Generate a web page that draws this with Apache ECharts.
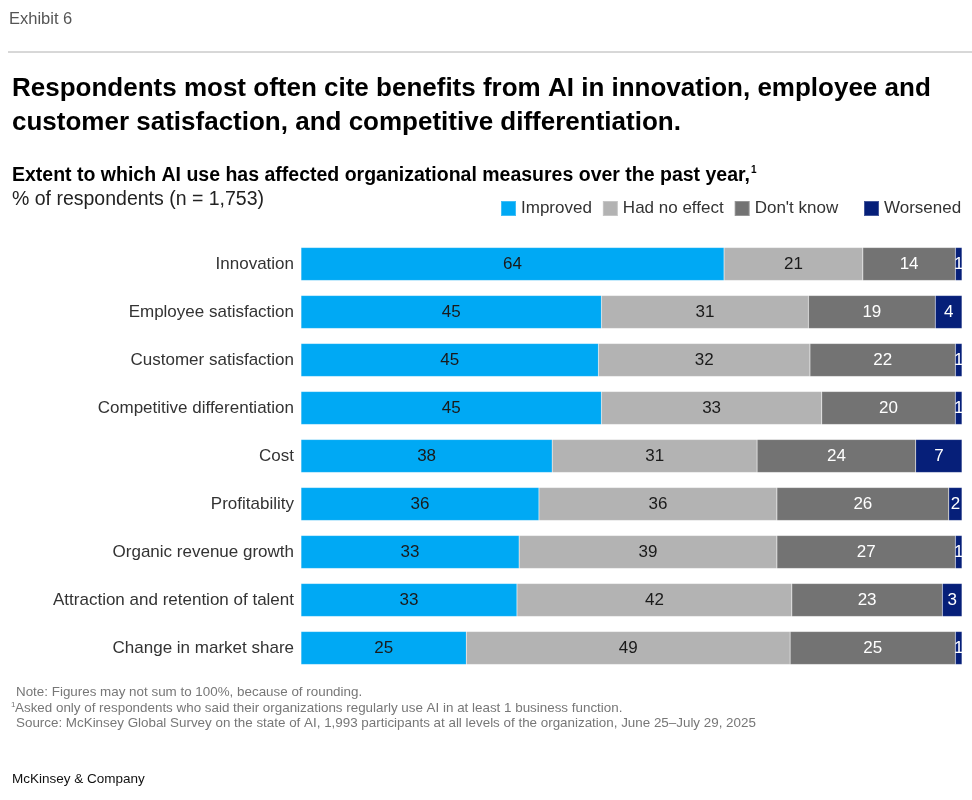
<!DOCTYPE html>
<html>
<head>
<meta charset="utf-8">
<script src="https://cdn.jsdelivr.net/npm/echarts@6/dist/echarts.min.js"></script>
<style>
  html, body { margin: 0; padding: 0; background: #fff; }
  #chart { width: 972px; height: 800px; }
</style>
</head>
<body>
<div id="chart"></div>
<script>
const categories = [
  'Innovation',
  'Employee satisfaction',
  'Customer satisfaction',
  'Competitive differentiation',
  'Cost',
  'Profitability',
  'Organic revenue growth',
  'Attraction and retention of talent',
  'Change in market share',
]
const improved = [64, 45, 45, 45, 38, 36, 33, 33, 25]
const noEffect = [21, 31, 32, 33, 31, 36, 39, 42, 49]
const dontKnow = [14, 19, 22, 20, 24, 26, 27, 23, 25]
const worsened = [1, 4, 1, 1, 7, 2, 1, 3, 1]

const seriesNames = ['Improved', 'Had no effect', "Don't know", 'Worsened']
const colors = ['#00a9f4', '#b3b3b3', '#737373', '#061f79']
const labelColors = ['#1a1a1a', '#1a1a1a', '#ffffff', '#ffffff']

// bars fill the full width; figures may not sum to 100 because of rounding
const totals = categories.map((_, i) => improved[i] + noEffect[i] + dontKnow[i] + worsened[i])

const font = "'Liberation Sans', Arial, sans-serif"

const chart = echarts.init(document.getElementById('chart'))

const makeSeries = (name, values, idx) => ({
  name,
  type: 'bar',
  stack: 'total',
  barWidth: 33,
  itemStyle: { color: colors[idx], borderColor: 'rgba(255,255,255,0.25)', borderWidth: 0.5 },
  label: {
    show: true,
    position: 'inside',
    color: labelColors[idx],
    fontFamily: font,
    fontSize: 17,
    formatter: p => values[p.dataIndex],
  },
  emphasis: { disabled: true },
  data: values.map((v, i) => v / totals[i] * 100),
})

const text = (x, y, str, f, fill) => ({
  type: 'text',
  x, y,
  style: { text: str, font: f, fill, textVerticalAlign: 'middle', verticalAlign: 'middle' },
})

const legendText = { color: '#333', fontFamily: font, fontSize: 17 }

const option = {
  backgroundColor: '#fff',
  animation: false,
  grid: { left: 301, right: 10, top: 240, height: 432 },
  xAxis: { type: 'value', min: 0, max: 100, show: false },
  yAxis: {
    type: 'category',
    inverse: true,
    data: categories,
    axisLine: { show: false },
    axisTick: { show: false },
    axisLabel: { color: '#333', fontFamily: font, fontSize: 17, margin: 7 },
  },
  legend: [
    {
      data: seriesNames.slice(0, 3),
      left: 495, top: 195,
      itemWidth: 15, itemHeight: 15, itemGap: 10,
      icon: 'rect',
      selectedMode: false,
      textStyle: legendText,
    },
    {
      data: seriesNames.slice(3),
      left: 858, top: 195,
      itemWidth: 15, itemHeight: 15,
      icon: 'rect',
      selectedMode: false,
      textStyle: legendText,
    },
  ],
  graphic: [
    text(9, 19, 'Exhibit 6', '16.5px ' + font, '#555'),
    { type: 'line', shape: { x1: 8, y1: 52, x2: 972, y2: 52 }, style: { stroke: '#b0b0b0', lineWidth: 1 } },
    text(12, 89, 'Respondents most often cite benefits from AI in innovation, employee and', 'bold 26px ' + font, '#000'),
    text(12, 123, 'customer satisfaction, and competitive differentiation.', 'bold 26px ' + font, '#000'),
    text(12, 176, 'Extent to which AI use has affected organizational measures over the past year,', 'bold 19.5px ' + font, '#000'),
    text(751, 170, '1', 'bold 10px ' + font, '#000'),
    text(12, 200, '% of respondents (n = 1,753)', '19.5px ' + font, '#222'),
    text(16, 692, 'Note: Figures may not sum to 100%, because of rounding.', '13.4px ' + font, '#777'),
    text(11, 705, '1', '8px ' + font, '#777'),
    text(15, 708, 'Asked only of respondents who said their organizations regularly use AI in at least 1 business function.', '13.4px ' + font, '#777'),
    text(16, 723, 'Source: McKinsey Global Survey on the state of AI, 1,993 participants at all levels of the organization, June 25\u2013July 29, 2025', '13.4px ' + font, '#777'),
    text(12, 779, 'McKinsey & Company', '13.5px ' + font, '#111'),
  ],
  series: [
    makeSeries(seriesNames[0], improved, 0),
    makeSeries(seriesNames[1], noEffect, 1),
    makeSeries(seriesNames[2], dontKnow, 2),
    makeSeries(seriesNames[3], worsened, 3),
  ],
}

chart.setOption(option)
</script>
</body>
</html>
